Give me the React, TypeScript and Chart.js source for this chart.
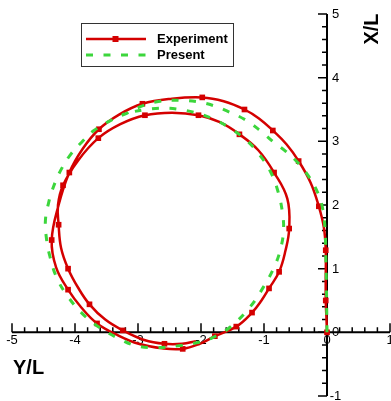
import React, { useEffect, useRef } from "react";
import { Chart, registerables } from "chart.js";

Chart.register(...registerables);

// ---- Data (x = Y/L, y = X/L) ----
const experimentYL = [
  0.0, -0.01, -0.02, -0.02, -0.02, -0.05, -0.13, -0.26, -0.45, -0.64,
  -0.86, -1.08, -1.31, -1.64, -1.98, -2.46, -2.93, -3.3, -3.62, -3.88,
  -4.09, -4.26, -4.37, -4.3, -4.11, -3.9, -3.65, -3.31, -2.99, -2.62,
  -2.29, -2.02, -1.78, -1.44, -1.19, -1.04, -0.92, -0.76, -0.66, -0.6,
  -0.63, -0.84, -1.09, -1.39, -1.7, -2.04, -2.46, -2.89, -3.28, -3.63,
  -3.95, -4.19, -4.27, -4.26, -4.22, -4.11, -3.95, -3.77, -3.52, -3.24,
  -2.9, -2.58, -2.3, -2.08,
];
const experimentXL = [
  0.0, 0.25, 0.5, 0.9, 1.29, 1.65, 1.98, 2.35, 2.69, 2.95,
  3.17, 3.36, 3.5, 3.63, 3.69, 3.67, 3.59, 3.42, 3.19, 2.88,
  2.51, 2.0, 1.45, 1.02, 0.67, 0.39, 0.14, -0.05, -0.18, -0.25,
  -0.26, -0.18, -0.06, 0.09, 0.31, 0.5, 0.69, 0.95, 1.28, 1.63,
  2.1, 2.51, 2.86, 3.11, 3.3, 3.41, 3.45, 3.41, 3.27, 3.05,
  2.7, 2.31, 2.0, 1.69, 1.32, 1.0, 0.7, 0.44, 0.2, 0.03,
  -0.12, -0.18, -0.18, -0.14,
];
const experimentSymbolIdx = [
  0, 2, 4, 6, 8, 10, 12, 14, 16, 18, 20, 22, 24, 26, 30, 32, 33, 34, 36, 37,
  39, 41, 43, 45, 47, 49, 51, 53, 55, 57, 59, 61,
];

const presentYL = [
  0.0, -0.005, -0.01, -0.02, -0.03, -0.07, -0.15, -0.29, -0.45, -0.65,
  -0.85, -1.05, -1.3, -1.55, -1.8, -2.05, -2.33, -2.65, -2.92, -3.18,
  -3.43, -3.7, -3.89, -4.08, -4.24, -4.34, -4.42, -4.47, -4.45, -4.4,
  -4.3, -4.14, -3.88, -3.6, -3.3, -3.03, -2.71, -2.35, -2.05, -1.83,
  -1.54, -1.22, -1.01, -0.84, -0.74, -0.69, -0.71, -0.78, -0.9, -1.08,
  -1.27, -1.51, -1.76, -2.02, -2.33, -2.6, -2.87, -3.1, -3.25,
];
const presentXL = [
  0.0, 0.4, 0.8, 1.2, 1.6, 1.95, 2.2, 2.45, 2.65, 2.84,
  2.99, 3.16, 3.34, 3.46, 3.56, 3.62, 3.645, 3.63, 3.56, 3.44,
  3.33, 3.17, 2.99, 2.78, 2.52, 2.29, 2.03, 1.75, 1.45, 1.2,
  0.88, 0.6, 0.29, 0.07, -0.1, -0.21, -0.24, -0.21, -0.16, -0.09,
  0.08, 0.4, 0.71, 1.02, 1.3, 1.6, 1.9, 2.22, 2.53, 2.8,
  3.01, 3.19, 3.33, 3.43, 3.5, 3.52, 3.5, 3.46, 3.42,
];

const yLTicks = [-5, -4, -3, -2, -1, 0, 1];
const xLTicks = [-1, 0, 1, 2, 3, 4, 5];
const minorDivisions = 5;
const seriesNames = ["Experiment", "Present"];
const xAxisTitle = "Y/L";
const yAxisTitle = "X/L";

const RED = "rgb(212,0,0)";
const GREEN = "rgb(60,214,60)";
const FONT = 'Arial, "Liberation Sans", sans-serif';

const crossAxesPlugin = {
  id: "crossAxes",
  beforeDatasetsDraw(chart: any) {
    const { ctx } = chart;
    const xs = chart.scales.x;
    const ys = chart.scales.y;
    const x0 = xs.getPixelForValue(0);
    const y0 = ys.getPixelForValue(0);
    ctx.save();
    ctx.strokeStyle = "#000";
    ctx.lineCap = "butt";
    ctx.lineWidth = 2;
    ctx.beginPath();
    ctx.moveTo(xs.getPixelForValue(yLTicks[0]), y0);
    ctx.lineTo(xs.getPixelForValue(yLTicks[yLTicks.length - 1]), y0);
    ctx.moveTo(x0, ys.getPixelForValue(xLTicks[0]));
    ctx.lineTo(x0, ys.getPixelForValue(xLTicks[xLTicks.length - 1]));
    ctx.stroke();
    ctx.lineWidth = 1.5;
    ctx.beginPath();
    yLTicks.forEach((v, i) => {
      const px = xs.getPixelForValue(v);
      ctx.moveTo(px, y0);
      ctx.lineTo(px, y0 - 9);
      if (i < yLTicks.length - 1) {
        const step = (yLTicks[i + 1] - v) / minorDivisions;
        for (let k = 1; k < minorDivisions; k++) {
          const mp = xs.getPixelForValue(v + k * step);
          ctx.moveTo(mp, y0);
          ctx.lineTo(mp, y0 - 5);
        }
      }
    });
    xLTicks.forEach((v, i) => {
      const py = ys.getPixelForValue(v);
      ctx.moveTo(x0, py);
      ctx.lineTo(x0 - 9, py);
      if (i < xLTicks.length - 1) {
        const step = (xLTicks[i + 1] - v) / minorDivisions;
        for (let k = 1; k < minorDivisions; k++) {
          const mp = ys.getPixelForValue(v + k * step);
          ctx.moveTo(x0, mp);
          ctx.lineTo(x0 - 5, mp);
        }
      }
    });
    ctx.stroke();
    ctx.fillStyle = "#000";
    ctx.font = `13px ${FONT}`;
    ctx.textAlign = "center";
    ctx.textBaseline = "middle";
    yLTicks.forEach((v) => {
      ctx.fillText(String(v), xs.getPixelForValue(v), y0 + 8);
    });
    xLTicks.forEach((v) => {
      ctx.fillText(String(v), x0 + 8.5, ys.getPixelForValue(v) + 0.5);
    });
    ctx.restore();
  },
  afterDraw(chart: any) {
    const { ctx } = chart;
    ctx.save();
    ctx.fillStyle = "#000";
    ctx.font = `bold 20px ${FONT}`;
    ctx.textAlign = "left";
    ctx.textBaseline = "alphabetic";
    ctx.fillText(xAxisTitle, 13, 374);
    ctx.save();
    ctx.translate(378, 29);
    ctx.rotate(-Math.PI / 2);
    ctx.textAlign = "center";
    ctx.fillText(yAxisTitle, 0, 0);
    ctx.restore();
    ctx.fillStyle = "#fff";
    ctx.fillRect(81, 23, 152, 43);
    ctx.strokeStyle = "#333";
    ctx.lineWidth = 1;
    ctx.strokeRect(81.5, 23.5, 152, 43);
    ctx.strokeStyle = RED;
    ctx.lineWidth = 2.5;
    ctx.beginPath();
    ctx.moveTo(86, 39);
    ctx.lineTo(146, 39);
    ctx.stroke();
    ctx.fillStyle = RED;
    ctx.fillRect(112.5, 36, 6, 6);
    ctx.strokeStyle = GREEN;
    ctx.lineWidth = 3;
    ctx.setLineDash([7, 10.5]);
    ctx.beginPath();
    ctx.moveTo(86, 55);
    ctx.lineTo(146, 55);
    ctx.stroke();
    ctx.setLineDash([]);
    ctx.fillStyle = "#000";
    ctx.font = `bold 13px ${FONT}`;
    ctx.textAlign = "left";
    ctx.textBaseline = "middle";
    ctx.fillText(seriesNames[0], 157, 39.5);
    ctx.fillText(seriesNames[1], 157, 55.5);
    ctx.restore();
  },
};

export default function App() {
  const ref = useRef<HTMLCanvasElement>(null);
  useEffect(() => {
    if (!ref.current) return;
    const symbolSet = new Set(experimentSymbolIdx);
    const chart = new Chart(ref.current, {
      type: "line",
      data: {
        datasets: [
          {
            label: seriesNames[0],
            data: experimentYL.map((x, i) => ({ x, y: experimentXL[i] })),
            borderColor: RED,
            borderWidth: 2.5,
            backgroundColor: RED,
            pointStyle: "rect",
            pointRadius: experimentYL.map((_, i) => (symbolSet.has(i) ? 4 : 0)),
            pointBackgroundColor: RED,
            pointBorderWidth: 0,
            pointHoverRadius: 0,
            tension: 0.4,
            fill: false,
            order: 1,
          },
          {
            label: seriesNames[1],
            data: presentYL.map((x, i) => ({ x, y: presentXL[i] })),
            borderColor: GREEN,
            borderWidth: 3,
            borderDash: [7, 10.5],
            pointRadius: 0,
            pointHoverRadius: 0,
            tension: 0.4,
            fill: false,
            order: 0,
          },
        ],
      },
      options: {
        responsive: false,
        animation: false,
        devicePixelRatio: 1,
        layout: { autoPadding: false, padding: { left: 12, right: 1, top: 14, bottom: 5 } },
        scales: {
          x: { type: "linear", min: yLTicks[0], max: yLTicks[yLTicks.length - 1], display: false },
          y: { type: "linear", min: xLTicks[0], max: xLTicks[xLTicks.length - 1], display: false },
        },
        plugins: {
          legend: { display: false },
          tooltip: { enabled: false },
        },
        events: [],
      },
      plugins: [crossAxesPlugin],
    });
    return () => chart.destroy();
  }, []);
  return (
    <div style={{ position: "fixed", left: 0, top: 0, width: 391, height: 401, background: "#fff" }}>
      <canvas ref={ref} width={391} height={401} style={{ display: "block", width: 391, height: 401 }} />
    </div>
  );
}
